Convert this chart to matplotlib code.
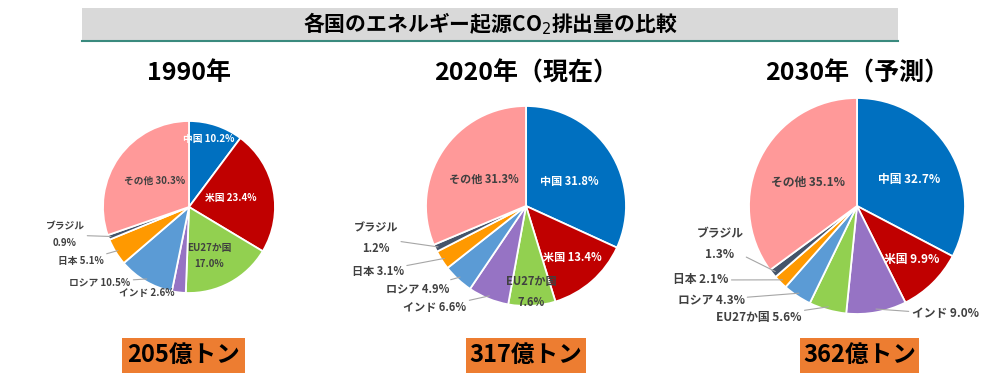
import numpy as np
import matplotlib
matplotlib.use('Agg')
import matplotlib.pyplot as plt
from matplotlib.patches import Rectangle

plt.rcParams['font.family'] = ['Noto Sans CJK JP', 'DejaVu Sans']

#*--データ-------------------------------------------------------------------
title = '各国のエネルギー起源CO$_2$排出量の比較'
years = ['1990年', '2020年（現在）', '2030年（予測）']
totals = ['205億トン', '317億トン', '362億トン']

names_1990 = ['中国', '米国', 'EU27か国', 'インド', 'ロシア', '日本', 'ブラジル', 'その他']
share_1990 = [10.2, 23.4, 17.0, 2.6, 10.5, 5.1, 0.9, 30.3]

names_2020 = ['中国', '米国', 'EU27か国', 'インド', 'ロシア', '日本', 'ブラジル', 'その他']
share_2020 = [31.8, 13.4, 7.6, 6.6, 4.9, 3.1, 1.2, 31.3]

names_2030 = ['中国', '米国', 'インド', 'EU27か国', 'ロシア', '日本', 'ブラジル', 'その他']
share_2030 = [32.7, 9.9, 9.0, 5.6, 4.3, 2.1, 1.3, 35.1]

colors = {'中国': '#0070C0', '米国': '#C00000', 'EU27か国': '#92D050',
          'インド': '#9673C4', 'ロシア': '#5B9BD5', '日本': '#FF9900',
          'ブラジル': '#44546A', 'その他': '#FF9999'}
white_txt = ['中国', '米国']

#*--レイアウト (ピクセル座標, y は上から)------------------------------------
W, H = 992, 381
pies = [
    dict(names=names_1990, vals=share_1990, c=(189, 207), r=86, fs=7,
         pos=[(209, 139), (231, 198), (209, 256), (147, 293), (100, 282), (81, 261), (65, 235), (155, 181)],
         mode=['in', 'in', 'in', 'in', 'out', 'out', 'out', 'in'],
         sep=[' ', ' ', '\n', ' ', ' ', ' ', '\n', ' '],
         box=(122, 245)),
    dict(names=names_2020, vals=share_2020, c=(526, 206), r=100, fs=8,
         pos=[(569, 182), (572, 257), (531, 292), (435, 308), (418, 289), (378, 271), (376, 238), (484, 179)],
         mode=['in', 'in', 'in', 'out', 'out', 'out', 'out', 'in'],
         sep=[' ', ' ', '\n', ' ', ' ', ' ', '\n', ' '],
         box=(466, 586)),
    dict(names=names_2030, vals=share_2030, c=(857, 206), r=108, fs=8.5,
         pos=[(909, 180), (912, 260), (945, 314), (759, 317), (711, 300), (701, 280), (720, 244), (808, 182)],
         mode=['in', 'in', 'out', 'out', 'out', 'out', 'out', 'in'],
         sep=[' ', ' ', ' ', ' ', ' ', ' ', '\n', ' '],
         box=(800, 919)),
]

fig = plt.figure(figsize=(W / 100, H / 100), dpi=100)
ax = fig.add_axes([0, 0, 1, 1])

#*--タイトル帯--------------------------------------------------------------
ax.add_patch(Rectangle((82, H - 41), 816, 33, facecolor='#D9D9D9', edgecolor='none'))
ax.plot([82, 898], [H - 41, H - 41], color='#3A8A7E', lw=1.5)
ax.text(490, H - 24, title, ha='center', va='center', fontsize=15, fontweight='bold', color='black')

#*--円グラフ----------------------------------------------------------------
for p, yr, tot in zip(pies, years, totals):
    cx, cy = p['c']
    cy = H - cy
    r = p['r']
    cols = [colors[n] for n in p['names']]
    wedges, _ = ax.pie(p['vals'], colors=cols, startangle=90, counterclock=False,
                       center=(cx, cy), radius=r,
                       wedgeprops=dict(edgecolor='white', linewidth=1.3))
    for w, n, v, (lx, ly), m, s in zip(wedges, p['names'], p['vals'], p['pos'], p['mode'], p['sep']):
        txt = n + s + '%.1f%%' % v
        tc = 'white' if n in white_txt else '#404040'
        if m == 'in':
            ax.text(lx, H - ly, txt, ha='center', va='center', fontsize=p['fs'],
                    fontweight='bold', color=tc, linespacing=1.7)
        else:
            ang = np.deg2rad((w.theta1 + w.theta2) / 2)
            px = cx + r * 0.97 * np.cos(ang)
            py = cy + r * 0.97 * np.sin(ang)
            ax.annotate(txt, xy=(px, py), xytext=(lx, H - ly), ha='center', va='center',
                        fontsize=p['fs'], fontweight='bold', color=tc, linespacing=1.8,
                        arrowprops=dict(arrowstyle='-', color='#A6A6A6', lw=0.8,
                                        shrinkA=0, shrinkB=0))

    # 年の見出し
    ax.text(p['c'][0], H - 73, yr, ha='center', va='center', fontsize=18,
            fontweight='bold', color='black')

    # 総排出量の箱
    x0, x1 = p['box']
    ax.add_patch(Rectangle((x0, H - 373), x1 - x0, 35, facecolor='#ED7D31', edgecolor='none'))
    ax.text((x0 + x1) / 2, H - 355, tot, ha='center', va='center', fontsize=17,
            fontweight='bold', color='black')

ax.set_xlim(0, W)
ax.set_ylim(0, H)
ax.set_aspect('auto')
ax.axis('off')

fig.savefig('out.png', dpi=100, facecolor='white')
